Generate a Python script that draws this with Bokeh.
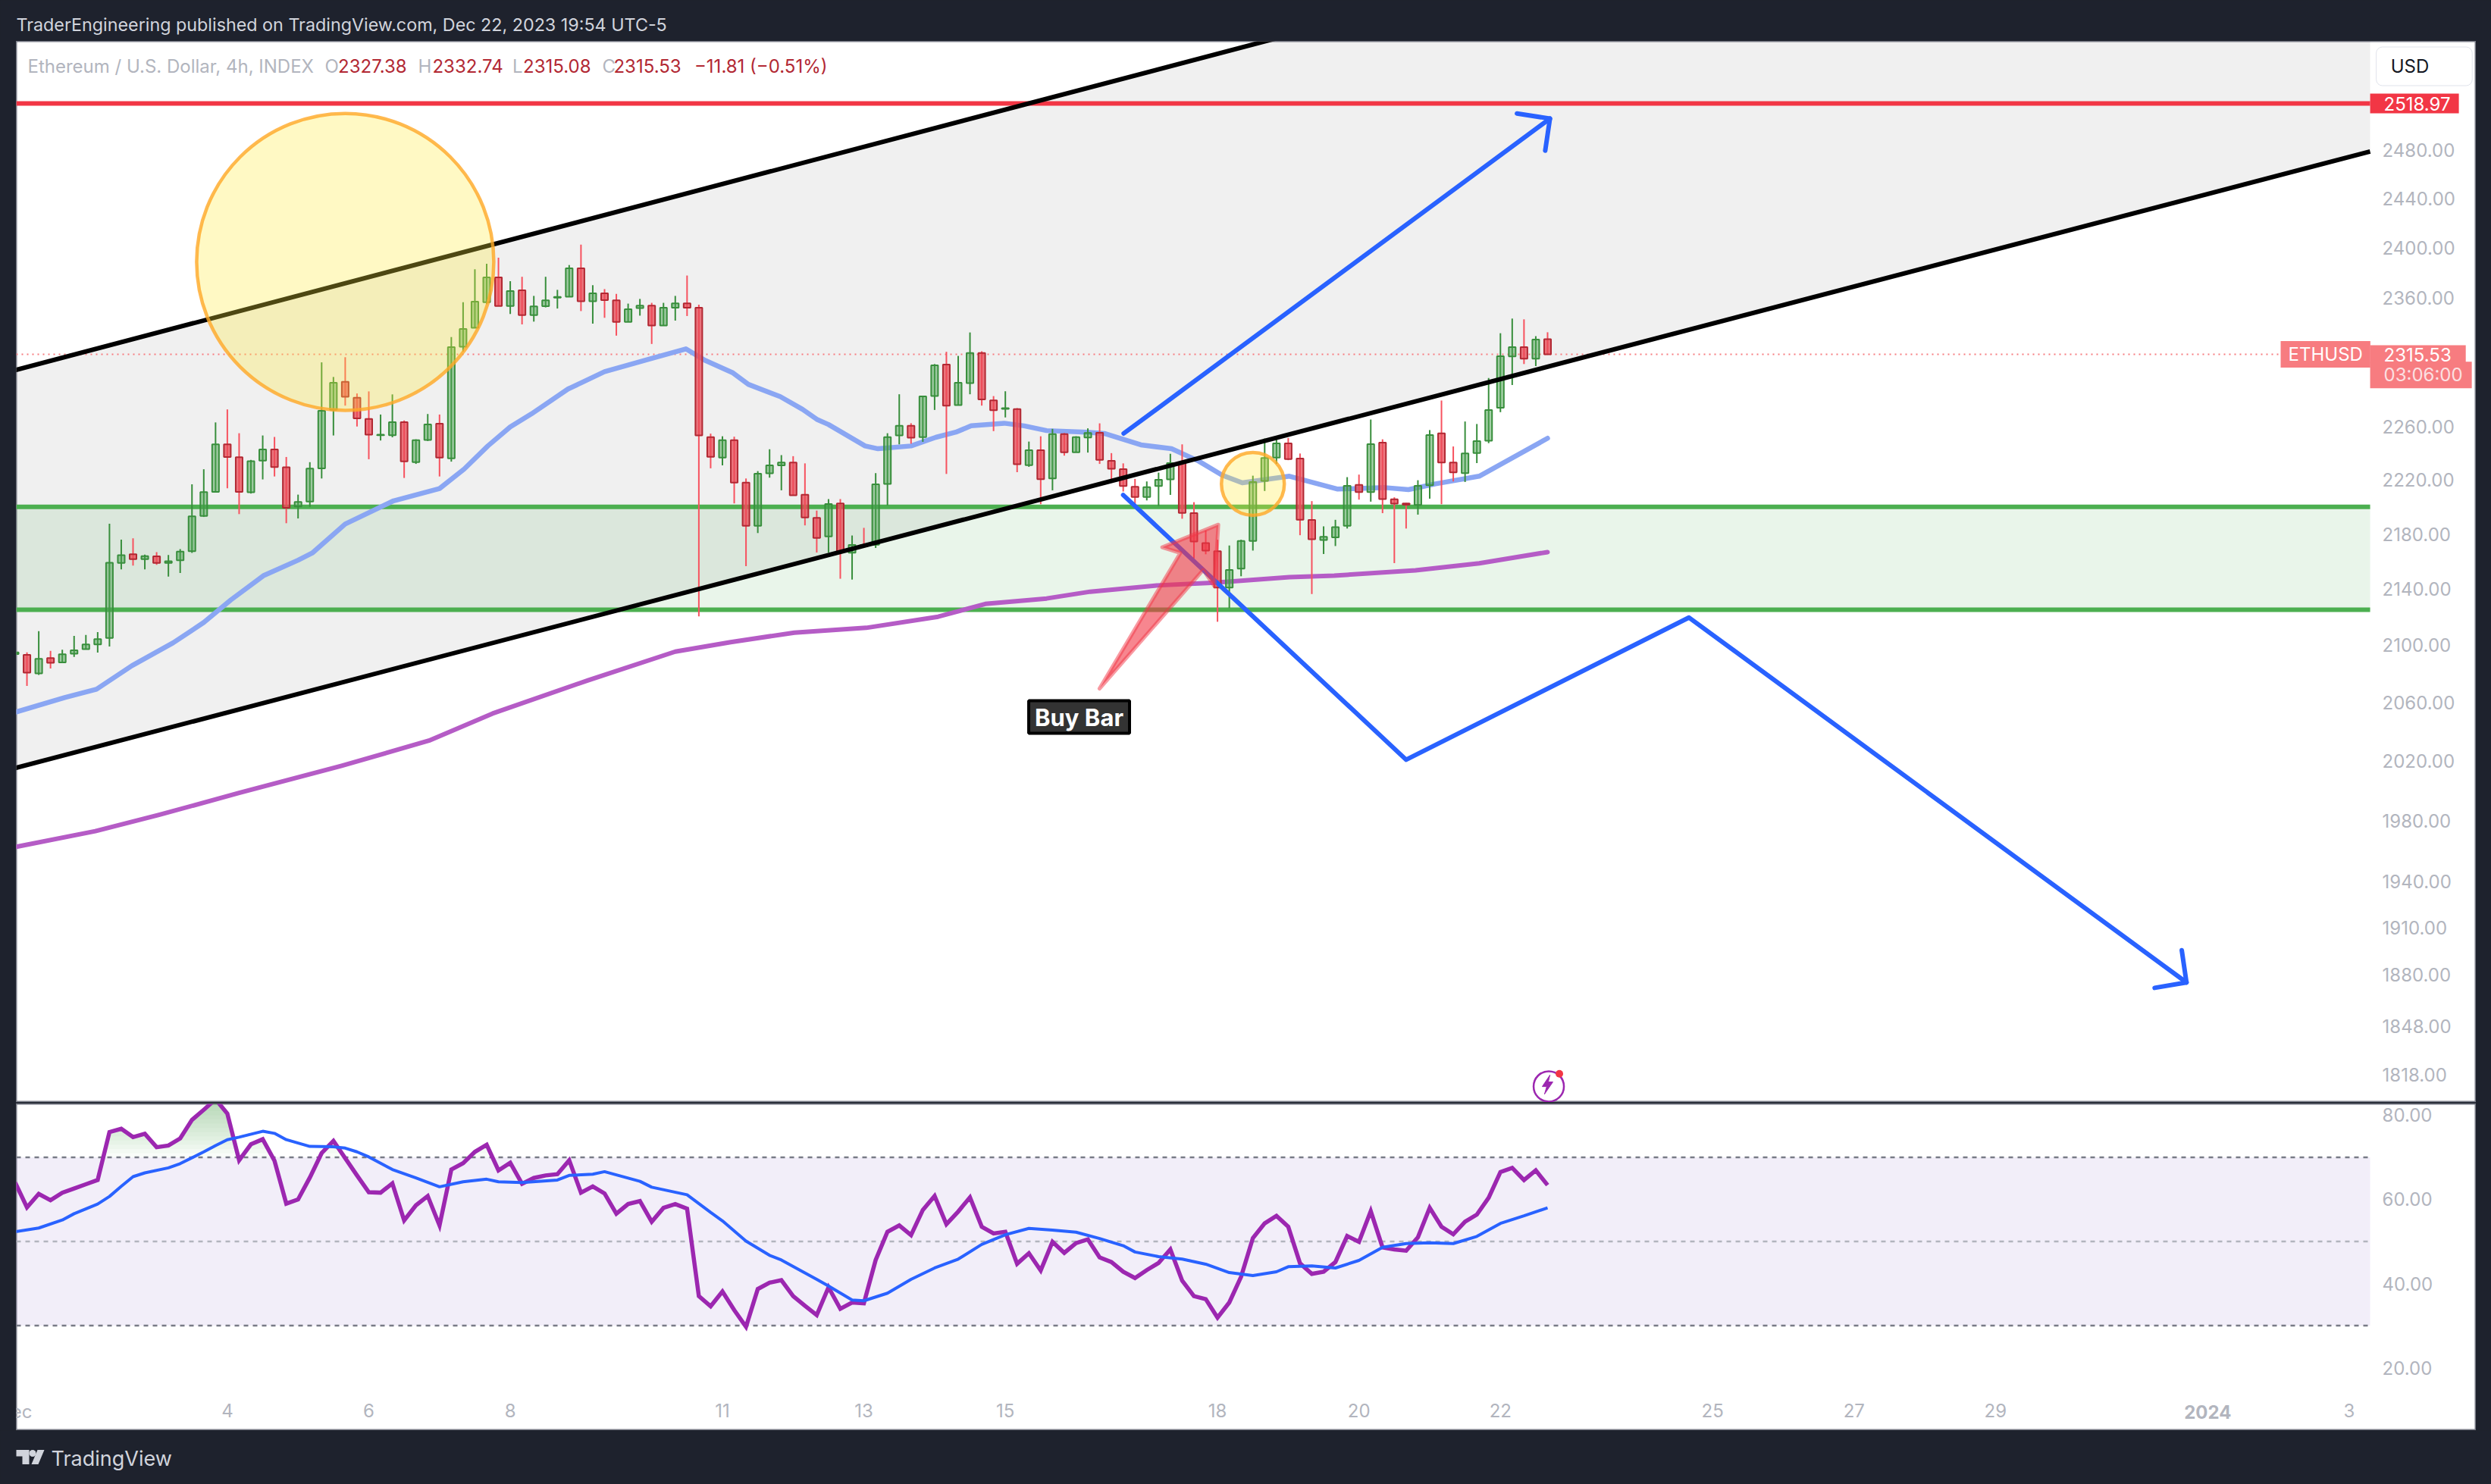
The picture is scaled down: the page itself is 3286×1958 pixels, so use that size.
from bokeh.plotting import figure
from bokeh.layouts import column
from bokeh.models import Range1d, FixedTicker, NumeralTickFormatter, Label, Spacer
from bokeh.core.properties import value
from bokeh.embed import file_html
from bokeh.resources import INLINE
import numpy as np

highs = [2098,2095.1,2110.1,2096.1,2096.9,2106.7,2107.3,2109.3,2187.5,2175.9,2176.8,2165,2166.8,2164.7,2168.9,2216.7,2227.9,2263.2,2273.1,2255,2234.9,2253.3,2252.2,2237.1,2209,2233.2,2309.3,2298,2313.3,2285.3,2286.9,2269.2,2284.6,2264.7,2250.4,2269.6,2269.2,2329,2356.4,2382.6,2387,2391.9,2373.1,
 2376.6,2361.4,2376.6,2366.2,2386,2402.4,2369.9,2366.8,2363,2355.3,2359,2355.9,2355.9,2361.4,2377.6,2354.5,2254.7,2252.7,2252.4,2221,2226.5,2242.9,2238.5,2237.7,2232.3,2197.2,2205.7,2205.7,2178.9,2184.5,2225,2255,2284.7,2262.6,2283.1,2308,2317.5,2314.3,2332.6,2317.9,2283.3,2287,2274.1,2248.7,2252.7,
 2258.3,2255.2,2252.7,2258.7,2262.5,2240,2232.3,2220.7,2218.8,2225.4,2239.5,2246.6,2203.4,2182.6,2175.8,2171.6,2175.8,2223.1,2251,2251,2251.4,2239.7,2204.2,2185.6,2190.4,2222,2223.9,2265.4,2250.4,2207,2202.8,2219.7,2257.4,2279.9,2245,2263.9,2262,2297.2,2332,2343.5,2342.9,2329.7,2332.74]
opens = [2093.9,2093.3,2080.3,2091.1,2088,2094.1,2097.3,2100.6,2105.2,2158.9,2165.2,2161.6,2163.7,2158.9,2160.8,2167.5,2193.3,2211.1,2246.6,2236.9,2210.7,2234.3,2242.7,2229.4,2200.2,2203.8,2228.6,2272.9,2294.3,2282,2265.8,2253.5,2253.5,2263.4,2233.2,2249.9,2262.3,2236,2321.4,2336.2,2356.4,2376.1,2353.4,
 2365.8,2346.2,2353.3,2360,2360.8,2383.4,2357.1,2363.4,2357.9,2340.9,2351.8,2353.7,2338,2352.1,2355.5,2352,2252,2236.6,2249.7,2217.9,2186,2224.8,2230.8,2233,2208.9,2191.9,2178.2,2202.5,2166.3,2172,2172.2,2216.9,2253.3,2260.6,2252,2283.3,2307.6,2276.4,2293.3,2316.5,2280,2273.5,2273.3,2231,2242.2,
 2221,2254.3,2240.6,2251.8,2255.4,2234.2,2228,2214.9,2207.3,2215.4,2220.3,2232.9,2195.3,2173.4,2167.4,2141.1,2154.8,2174.9,2219.2,2236.6,2247.4,2235.9,2190.3,2175.6,2177.6,2186,2216.2,2210.9,2247.9,2205.5,2202.5,2201.3,2216,2254.9,2232.9,2225,2240,2249.3,2274.3,2313.9,2321.2,2312.2,2327.38]
closes = [2095,2080.9,2090.5,2087.8,2093.7,2096.5,2100.6,2104.4,2159.1,2164.5,2161.6,2163.9,2158.9,2160.2,2167.2,2192.9,2210.9,2246.6,2237.1,2211.1,2234,2242.7,2229.6,2199.3,2203.6,2228.4,2272,2293.6,2282.8,2266.3,2253.9,2253.9,2263.4,2233.8,2249.7,2261.6,2236.7,2321.2,2335.3,2356.9,2376.1,2353.4,2365.2,
 2346.2,2353.1,2357.9,2360.6,2383.4,2357.1,2363.4,2358.1,2340.9,2350.8,2353.7,2338,2352,2355.5,2352.1,2253.3,2237.2,2249.7,2218,2186,2224.6,2230.8,2233,2208.5,2192.1,2177.1,2202.1,2166.7,2172,2170.9,2216.7,2252,2260.6,2251.6,2283.1,2307,2276,2293.5,2316.5,2280.8,2272.5,2274.1,2231.7,2242.2,2220.5,
 2254.3,2240.6,2252,2255.2,2234.9,2228.2,2215.4,2207.3,2214.5,2220.1,2232.5,2195.5,2174.5,2167.8,2141.1,2153.9,2174.9,2218.4,2236.4,2247.3,2235.5,2190.4,2176.2,2178,2185,2215.6,2210.9,2246.8,2205.7,2202.3,2201.5,2215.6,2253.7,2232.9,2225.5,2239.7,2249.1,2272.7,2314.1,2321.2,2312.2,2327.1,2315.53]
lows = [2090,2071.6,2079.3,2083.8,2088,2091.9,2097.3,2094.9,2099.2,2154.3,2157,2154.3,2157.5,2149.1,2151.6,2166.2,2192.5,2211.1,2213.7,2194.6,2209.8,2220.3,2222.5,2187.9,2191.4,2200,2221,2253.3,2276,2260.1,2235.4,2249.5,2251.9,2221.4,2231.9,2249.1,2222.5,2233.6,2317.8,2336.2,2354.8,2353.4,2347.1,
 2338.9,2341.1,2352.3,2351.4,2360.8,2349.4,2339.5,2344.1,2330.1,2340.9,2345.8,2323.6,2338,2341.9,2345.5,2120.5,2228.6,2230.8,2202.5,2156.6,2180.7,2221.6,2212.2,2208.5,2186.3,2166.5,2166.5,2147.5,2146.9,2170.9,2169.8,2201,2246.6,2247.1,2248.5,2272.7,2224.4,2276.4,2284.7,2276,2256.6,2267,2225.7,2229.7,2201.9,
 2212.2,2238.1,2240.6,2240.4,2231.9,2220.1,2211.3,2201,2204.7,2200.6,2208.8,2191.2,2162.1,2165.2,2116.7,2126.5,2149.3,2167.9,2211.7,2231.9,2234.7,2179.1,2136.5,2165.4,2171.2,2184,2205.3,2203.8,2195.3,2158.8,2184,2194.2,2206,2201.9,2218.8,2218.4,2232.5,2247.5,2271,2291.8,2308,2306.4,2315.08]

ma20_bar = [0.1,4.2,6.9,9.9,13.4,16,18.3,21.1,24,25.2,28,32.1,36,38.1,40.1,42,43.8,46.9,50,54,56.9,58.5,60.9,62.2,64.9,66.8,68,69,72.1,73.2,76,78.1,79.8,81.1,83.9,85.6,87.5,90.9,92.4,95.5,98.1,100.4,102.4,104.1,108.1,112.2,116.2,118.2,120.5,124.2,127.1,130]
ma20_val = [2053.6,2063.5,2069.3,2085.7,2101.8,2116.2,2132.3,2149.9,2160.9,2166.1,2187.3,2204.4,2213.5,2228.1,2245.4,2259.8,2269.7,2288.7,2302.1,2312.3,2319.8,2311,2301.1,2292.3,2282.9,2273.1,2265.6,2261.6,2245.4,2243.3,2245.4,2251.9,2255.8,2260.6,2262.6,2260.6,2257,2255.8,2254.8,2246.2,2243.3,2234,2223.4,2217.8,2222.7,2213.1,2214.2,2212.7,2217,2222.7,2236.8,2251.2]
ma200_bar = [0.1,6.8,12.2,19,27.7,35.1,40.5,48.6,56,60.7,66.1,72.2,78.3,82.3,87.5,91.2,96.9,101.8,108.1,111.9,118.8,124.2,130]
ma200_val = [1962.7,1973,1983.8,1998.5,2016.8,2033.9,2052.5,2075.5,2095.6,2102.3,2109,2112.4,2120.3,2129.4,2133.3,2138.2,2142.7,2144.7,2148.6,2149.7,2153.6,2158.6,2166.8]

rsi = [64.0,58.1,61.3,59.8,61.6,62.6,63.6,64.6,76.0,76.8,74.8,75.6,72.4,72.8,74.5,78.9,81.3,83.8,80.4,69.3,73.1,74.3,69.2,59.0,60.0,65.2,71.0,73.9,69.8,65.7,61.7,61.6,63.8,55.0,58.6,60.8,53.8,67.1,68.6,71.3,73.0,66.9,68.7,63.7,65.1,65.7,66.0,69.3,61.6,63.1,61.4,56.6,58.9,59.6,54.7,58.0,58.9,57.8,37.0,34.6,38.1,33.7,29.7,38.7,40.2,40.8,37.0,34.7,32.5,39.1,34.0,35.5,35.3,45.6,52.3,53.8,51.5,57.5,60.8,54.1,57.1,60.5,53.5,51.9,52.3,44.7,47.2,43.1,49.9,47.3,49.6,50.5,46.2,45.1,42.8,41.3,43.2,44.9,48.1,40.7,37.0,36.3,31.9,35.5,41.6,50.8,54.3,56.1,53.5,44.8,42.3,42.8,45.1,51.3,49.9,57.2,48.6,48.1,47.8,51.0,58.0,53.5,51.7,54.7,56.4,60.4,66.5,67.5,64.6,66.9,63.4]
rsi_ma_bar = [0,2,4,5,7,8,9,10,11,13,14,16,17,18,19,21,22,23,25,27,28,29,30,32,34,36,38,40,41,43,46,47,49,50,53,54,57,59,60,62,64,65,68,69,71,72,74,76,78,80,82,84,86,88,90,92,94,95,97,99,101,103,105,107,108,110,112,114,116,118,120,122,124,126,128,130]
rsi_ma_val = [52.3,53.2,55.1,56.6,58.9,60.7,63.1,65.4,66.3,67.5,68.5,71.3,72.8,74.2,74.8,76.2,75.7,74.2,72.6,72.5,72.2,71.3,70.1,67.1,65.1,63,64.2,64.8,64.2,64,64.6,65.7,66,66.6,64.3,62.9,61.1,56.9,54.9,50.1,46.7,45.6,41,39.4,36.1,35.9,37.7,41,43.7,45.8,49.3,51.6,53.1,52.7,52.2,50.7,49,47.5,46.4,45.8,44.6,42.6,41.9,42.8,44,44.2,43.7,45.5,48.6,49.5,49.7,49.5,51.2,54.3,56.1,58]

price_ticks = [2480,2440,2400,2360,2260,2220,2180,2140,2100,2060,2020,1980,1940,1910,1880,1848,1818]
rsi_ticks = [80,60,40,20]
date_bars = [18,30,42,60,72,84,102,114,126,144,156,168,186,198]
date_labels = ["4","6","8","11","13","15","18","20","22","25","27","29","","3"]

resist = 2518.97
last_price = 2315.53
zone_top, zone_bottom = 2200.0, 2125.2
channel_up = ([0, 199.78], [2303.3, 2835.8])
channel_lo = ([0, 199.78], [2015.3, 2478.7])
arrow_up = ([94.04, 130.2], [2254.8, 2506.2])
arrow_up_head = ([127.4, 130.2, 129.8], [2510.5, 2506.2, 2479.4])
path_down = ([94.0, 118.0, 142.0, 184.2], [2208.7, 2020.9, 2119.7, 1875.3])
path_down_head = ([183.8, 184.2, 181.5], [1895.7, 1875.3, 1871.9])
buy_arrow = ([102.07, 97.31, 98.85, 91.99, 100.79, 101.75], [2186.9, 2170.3, 2166.2, 2069.7, 2153.9, 2142.0])
bolt = ([130.2, 129.55, 129.93, 129.74, 130.45, 130.06], [1817.9, 1810.9, 1810.9, 1806.3, 1813.7, 1813.7])

DARK = "#1e222d"
FONT = "Inter"
AX = "#b2b5be"
EDGE = "#787b86"
XMIN, XEND, XMAX = 0.0965, 199.78, 208.78
PLOT_W = 3245
bars = np.arange(len(closes))
o, h, l, c = map(np.array, (opens, highs, lows, closes))
up = c >= o

# ---------- header
head = figure(width=3286, height=54, x_range=Range1d(0, 3286), y_range=Range1d(54, 0),
              output_backend="svg", toolbar_location=None, x_axis_location=None, y_axis_location=None,
              min_border=0, outline_line_color=None, border_fill_color=DARK, background_fill_color=DARK)
head.grid.visible = False
head.text(x=[21], y=[32], text=["TraderEngineering published on TradingView.com, Dec 22, 2023 19:54 UTC-5"],
          text_font=value(FONT), text_font_size="23.3px", text_color="#d1d4dc", text_baseline="middle")

# ---------- price pane
p = figure(width=PLOT_W, height=1400, x_range=Range1d(XMIN, XMAX), y_range=Range1d(1801.3, 2572.1),
           y_axis_type="log", y_axis_location="right", x_axis_location=None,
           output_backend="svg", toolbar_location=None, outline_line_color=EDGE, outline_line_width=2,
           min_border=0, margin=(0, 20, 0, 21), border_fill_color="white", background_fill_color="white")
p.grid.visible = False
ax = p.yaxis[0]
ax.fixed_location = XEND
ax.ticker = FixedTicker(ticks=price_ticks)
ax.formatter = NumeralTickFormatter(format="0.00")
ax.axis_line_color = None
ax.major_tick_line_color = None
ax.minor_tick_line_color = None
ax.major_label_text_color = AX
ax.major_label_text_font = FONT
ax.major_label_text_font_size = "24px"
ax.major_label_standoff = 10

p.patch(channel_up[0] + channel_lo[0][::-1], channel_up[1] + channel_lo[1][::-1], fill_color="#000000", fill_alpha=0.06, line_color=None)
p.quad(left=[XMIN], right=[XEND], top=[zone_top], bottom=[zone_bottom], fill_color="#4caf50", fill_alpha=0.12, line_color=None)
p.line([XMIN, XEND], [zone_top, zone_top], line_color="#4caf50", line_width=6)
p.line([XMIN, XEND], [zone_bottom, zone_bottom], line_color="#4caf50", line_width=6)
p.line([XMIN, 192.0], [last_price, last_price], line_color="#f77c80", line_width=2, line_dash="2 5")
p.line([XMIN, XEND], [resist, resist], line_color="#f23645", line_width=6)
p.line(ma200_bar, ma200_val, line_color="#b55cc6", line_width=6, line_cap="round", line_join="round")
p.line(ma20_bar, ma20_val, line_color="#8aa6f3", line_width=6.5, line_cap="round", line_join="round")

p.segment(bars[up], l[up], bars[up], h[up], line_color="#388e3c", line_width=2)
p.segment(bars[~up], l[~up], bars[~up], h[~up], line_color="#f7525f", line_width=2)
p.vbar(x=bars[up], top=c[up], bottom=o[up], width=0.58, fill_color="#49a14f", fill_alpha=0.5, line_color="#388e3c", line_width=2)
p.vbar(x=bars[~up], top=o[~up], bottom=c[~up], width=0.58, fill_color="#ea4a56", fill_alpha=0.75, line_color="#b22833", line_width=2)

p.line(*channel_up, line_color="#000000", line_width=6)
p.line(*channel_lo, line_color="#000000", line_width=6)
BLUE = "#2962ff"
for seg in (arrow_up, arrow_up_head, path_down, path_down_head):
    p.line(*seg, line_color=BLUE, line_width=6, line_cap="round", line_join="round")
p.patch(*buy_arrow, fill_color="#f23645", fill_alpha=0.6, line_color="#f23645", line_alpha=0.5, line_width=5, line_join="round")
p.scatter(x=[28], y=[2388.5], size=392, marker="circle", fill_color="#ffeb3b", fill_alpha=0.3, line_color="#ffa726", line_alpha=0.8, line_width=4.5)
p.scatter(x=[105], y=[2217], size=83, marker="circle", fill_color="#ffeb3b", fill_alpha=0.3, line_color="#ffa726", line_alpha=0.8, line_width=4.5)
p.scatter(x=[130.1], y=[1811], size=40, marker="circle", fill_color="white", line_color="#9c27b0", line_width=2.5)
p.patch(*bolt, fill_color="#9c27b0", line_color="#9c27b0", line_width=1)
p.scatter(x=[131], y=[1818.7], size=10, marker="circle", fill_color="#f23645", line_color=None)

legend_bars = [1.06, 26.27, 27.4, 34.18, 35.4, 42.19, 43.09, 49.8, 50.77, 57.62]
legend_text = ["Ethereum / U.S. Dollar, 4h, INDEX", "O", "2327.38", "H", "2332.74", "L", "2315.08", "C", "2315.53", "\u221211.81 (\u22120.51%)"]
legend_cols = [AX, AX, "#b22833", AX, "#b22833", AX, "#b22833", AX, "#b22833", "#b22833"]
p.text(x=legend_bars, y=[2550.6] * 10, text=legend_text, text_color=legend_cols,
       text_font=value(FONT), text_font_size="24px", text_baseline="middle")

# Label padding order here is (left, right, top, bottom); the anchor is the padded box.
def tag(x, y, txt, bg, pad, color="white", size="24px", border=None, style="normal", align="left"):
    p.add_layout(Label(x=x, y=y, text=txt, text_color=color, text_font=FONT, text_font_size=size,
                       text_font_style=style, text_align=align, text_baseline="middle",
                       background_fill_color=bg, padding=pad,
                       border_line_color=border, border_line_width=4 if border else 1))

tag(90.26, 2050.1, "Buy Bar", "#333333", (8, 8, 3, 3), size="31px", border="#000000", style="bold", align="center")
tag(XEND, resist, "2518.97", "#f23645", (18, 11, 4, 4))
tag(XEND, 2299.6, "03:06:00", "#f77c80", (18, 12, 3, 3), color="#fbe0e2")
tag(XEND, last_price, "2315.53", "#f77c80", (18, 19, 3, 3))
tag(192.19, last_price, "ETHUSD", "#f77c80", (10, 10, 3, 3))
p.add_layout(Label(x=200.3, y=2550.6, text="USD", text_color="#131722", text_font=FONT, text_font_size="24px",
                   text_baseline="middle", background_fill_color="white", border_line_color="#e0e3eb",
                   border_line_width=1, border_radius=8, padding=(19, 57, 11, 11)))

sep = Spacer(width=PLOT_W, height=2, margin=(0, 20, 0, 21), styles={"background": "#2a2e39"})

# ---------- RSI pane
r = figure(width=PLOT_W, height=431, x_range=Range1d(XMIN, XMAX), y_range=Range1d(5.05, 82.7),
           y_axis_location="right", output_backend="svg", toolbar_location=None,
           outline_line_color=EDGE, outline_line_width=2,
           min_border=0, margin=(0, 20, 0, 21), border_fill_color="white", background_fill_color="white")
r.grid.visible = False
for a in (r.xaxis[0], r.yaxis[0]):
    a.axis_line_color = None
    a.major_tick_line_color = None
    a.minor_tick_line_color = None
    a.major_label_text_color = AX
    a.major_label_text_font = FONT
    a.major_label_text_font_size = "24px"
r.yaxis[0].fixed_location = XEND
r.yaxis[0].ticker = FixedTicker(ticks=rsi_ticks)
r.yaxis[0].formatter = NumeralTickFormatter(format="0.00")
r.yaxis[0].major_label_standoff = 10
r.xaxis[0].fixed_location = 13.87
r.xaxis[0].ticker = FixedTicker(ticks=date_bars)
r.xaxis[0].major_label_overrides = dict(zip(date_bars, date_labels))
r.xaxis[0].major_label_standoff = 7

r.quad(left=[XMIN], right=[XEND], top=[70], bottom=[30], fill_color="#7e57c2", fill_alpha=0.1, line_color=None)
fine_x = np.arange(0, 130.01, 0.1)
fine_y = np.interp(fine_x, bars, rsi)
for lvl in np.arange(70, 83, 1.0):
    r.varea(x=fine_x, y1=np.full_like(fine_x, lvl), y2=np.maximum(fine_y, lvl), fill_color="#4caf50", fill_alpha=0.035)
r.line([XMIN, XEND], [70, 70], line_color="#787b86", line_width=2.5, line_dash="6 6")
r.line([XMIN, XEND], [50, 50], line_color="#b2b5be", line_width=2.5, line_dash="6 6")
r.line([XMIN, XEND], [30, 30], line_color="#787b86", line_width=2.5, line_dash="6 6")
r.line(bars, rsi, line_color="#9c27b0", line_width=5.5, line_join="miter")
r.line(rsi_ma_bar, rsi_ma_val, line_color=BLUE, line_width=4)
r.add_layout(Label(x=186, y=9.55, text="2024", text_color=AX, text_font=FONT, text_font_size="24px",
                   text_font_style="bold", text_align="center", text_baseline="middle"))
r.add_layout(Label(x=0, y=9.55, text="Dec", text_color=AX, text_font=FONT, text_font_size="24px",
                   text_align="center", text_baseline="middle"))

# ---------- footer
foot = figure(width=3286, height=71, x_range=Range1d(0, 3286), y_range=Range1d(71, 0),
              output_backend="svg", toolbar_location=None, x_axis_location=None, y_axis_location=None,
              min_border=0, outline_line_color=None, border_fill_color=DARK, background_fill_color=DARK)
foot.grid.visible = False
LOGO = "#d1d4dc"
foot.patch([21, 38, 38, 29, 29, 21], [25.5, 25.5, 44.5, 44.5, 34, 34], fill_color=LOGO, line_color=None)
foot.scatter(x=[42.5], y=[30], size=9, marker="circle", fill_color=LOGO, line_color=None)
foot.patch([49, 58, 50, 41], [25.5, 25.5, 44.5, 44.5], fill_color=LOGO, line_color=None)
foot.text(x=[67], y=[37], text=["TradingView"], text_font=value(FONT), text_font_size="27px",
          text_color=LOGO, text_baseline="middle")

page = column(head, p, sep, r, foot, spacing=0)
html = file_html(page, INLINE)
html = html.replace("<body>", '<body style="background:%s">' % DARK)
open("out.html", "w").write(html)
